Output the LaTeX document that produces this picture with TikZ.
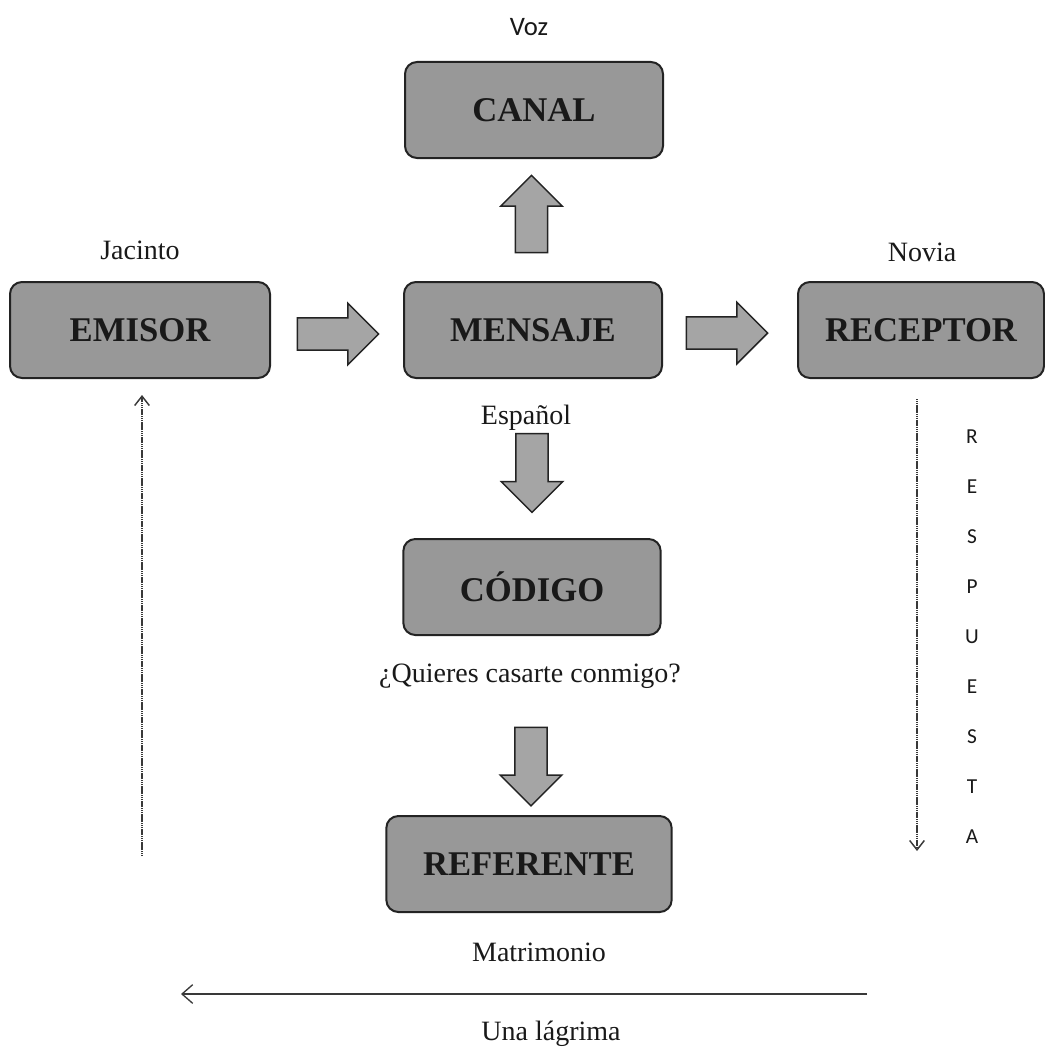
\documentclass[tikz,border=0pt]{standalone}
\usepackage{fontspec}
\setmainfont{Liberation Serif}
\newfontfamily\calib{Carlito}
\usetikzlibrary{shapes.arrows,arrows.meta,calc}
\definecolor{boxgray}{RGB}{152,152,152}
\definecolor{arrgray}{RGB}{165,165,165}
\definecolor{edge}{RGB}{35,35,35}
\definecolor{ink}{RGB}{25,25,25}
\tikzset{
  box/.style={draw=edge, line width=1.5pt, fill=boxgray, rounded corners=9pt,
    minimum height=72pt, inner sep=0pt, text=ink,
    font=\fontsize{26}{30}\selectfont\bfseries},
  blockarrow/.style={draw=edge, line width=1.1pt, fill=arrgray, single arrow,
    single arrow head extend=11pt, inner sep=11.5pt},
  lbl/.style={font=\fontsize{21}{24}\selectfont, text=ink, inner sep=0pt},
  sanslbl/.style={font=\calib\fontsize{20}{24}\selectfont, text=ink, inner sep=0pt},
  letter/.style={font=\calib\fontsize{16}{18}\selectfont, text=ink, inner sep=0pt},
  feedback/.style={draw=gray!45!black, line width=1.1pt, dash pattern=on 1pt off 0.4pt,
    -{Straight Barb[length=7pt,width=11pt]}},
  backline/.style={draw=gray!45!black, line width=1pt,
    -{Straight Barb[length=8pt,width=14pt]}}
}
\begin{document}
\begin{tikzpicture}[x=0.75pt,y=-0.75pt]
\useasboundingbox (0,0) rectangle (1045,1063);
% boxes
\node[box, minimum width=193.5pt] (canal) at (534,110) {CANAL};
\node[box, minimum width=195pt] (emisor) at (140,330) {EMISOR};
\node[box, minimum width=193.5pt] (mensaje) at (533,330) {MENSAJE};
\node[box, minimum width=184.5pt] (receptor) at (921,330) {RECEPTOR};
\node[box, minimum width=193pt] (codigo) at (532,587) {CÓDIGO};
\node[box, minimum width=214pt] (referente) at (529,864) {REFERENTE};
% labels
\node[sanslbl] (voz) at (529,27) {Voz};
\node[lbl] (jacinto) at (140,250) {Jacinto};
\node[lbl] (novia) at (922,252) {Novia};
\node[lbl] (espanol) at (526,418) {Español};
\node[lbl] (quieres) at (530,676) {¿Quieres casarte conmigo?};
\node[lbl] (matrimonio) at (539,952) {Matrimonio};
\node[lbl] (lagrima) at (551,1034) {Una lágrima};
% block arrows
\node[blockarrow, minimum height=61pt] (a1) at ($(emisor.east)!0.5!(mensaje.west)+(-7,4)$) {};
\node[blockarrow, minimum height=61pt] (a2) at ($(mensaje.east)!0.5!(receptor.west)+(-11,3)$) {};
\node[blockarrow, minimum height=58pt, shape border rotate=90] (a3) at ($(mensaje.north)!0.5!(canal.south)+(-2,2)$) {};
\node[blockarrow, minimum height=59pt, shape border rotate=270] (a4) at ($(mensaje.south -| codigo)+(0,86)$) {};
\node[blockarrow, minimum height=59pt, shape border rotate=270] (a5) at ($(quieres.south)+(1,70)$) {};
% feedback arrows
\coordinate (lbot) at (142,856);
\coordinate (rbot) at (917,851);
\coordinate (hstart) at (867,994);
\coordinate (hend) at (181,994);
\draw[feedback, shorten >=12pt] (lbot) -- (lbot |- emisor.south);
\draw[feedback, shorten <=15pt] (receptor.south -| rbot) -- (rbot);
\draw[backline] (hstart) -- (hend);
% RESPUESTA
\foreach \c [count=\i from 0] in {R,E,S,P,U,E,S,T,A}{
  \node[letter] (resp\i) at (972,{437+50*\i}) {\c};
}
\end{tikzpicture}
\end{document}
